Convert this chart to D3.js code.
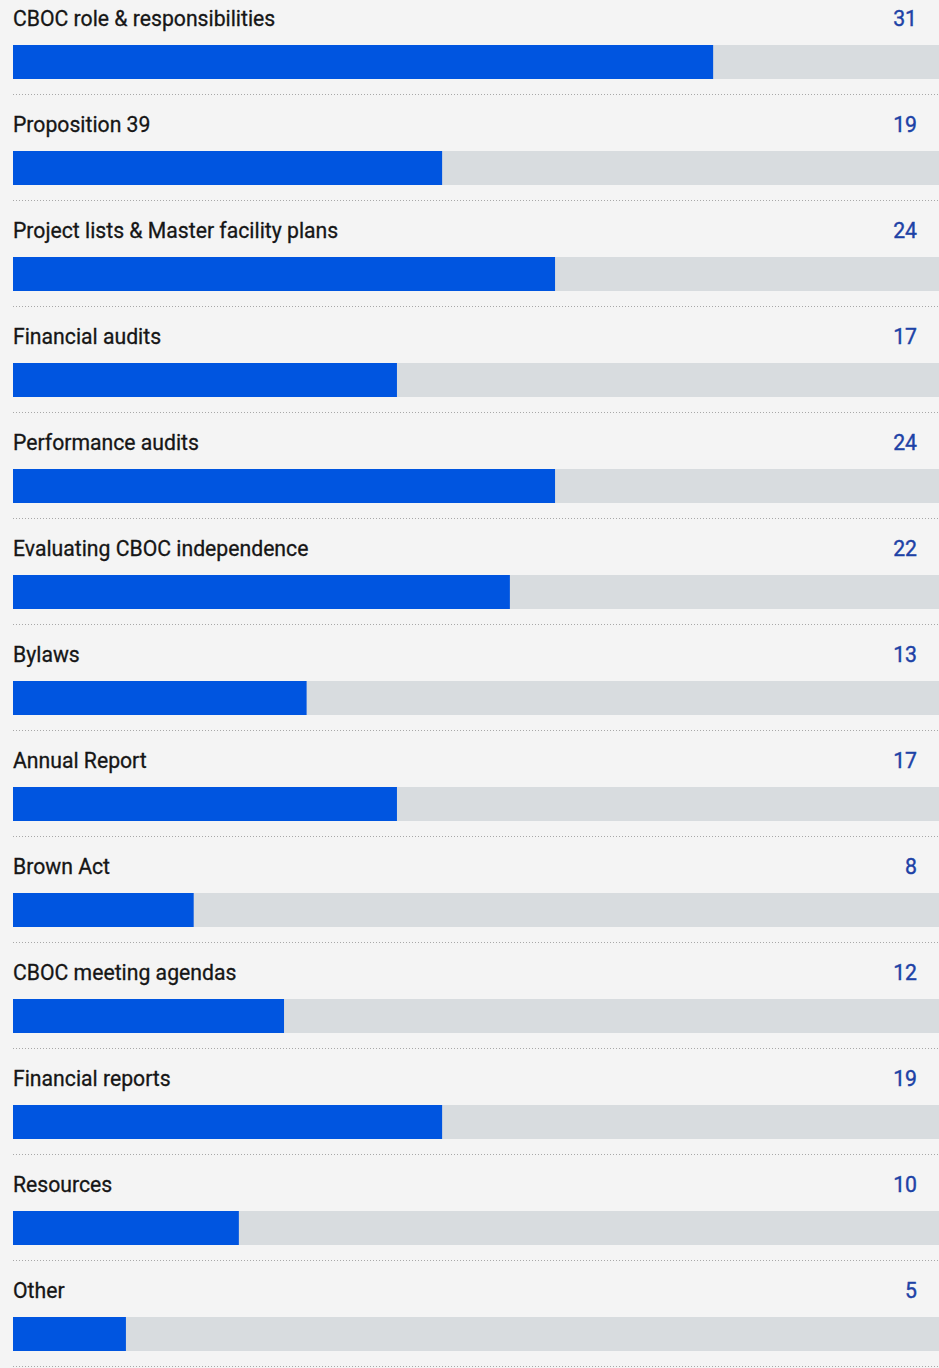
<html>
<head>
<meta charset="utf-8"/>
<script src="https://d3js.org/d3.v7.min.js"></script>
<style type="text/css">
body {
  margin: 0;
  overflow: hidden;
  background: #f4f4f4;
  font-family: Roboto, "Noto Sans", sans-serif;
}
</style>
</head>
<body>
<div id="v"></div>
<script type="text/javascript">
var topics = ["CBOC role & responsibilities", "Proposition 39", "Project lists & Master facility plans",
  "Financial audits", "Performance audits", "Evaluating CBOC independence", "Bylaws", "Annual Report",
  "Brown Act", "CBOC meeting agendas", "Financial reports", "Resources", "Other"];
var counts = [31, 19, 24, 17, 24, 22, 13, 17, 8, 12, 19, 10, 5];
var maxValue = 41;

var width = 939, height = 1368;
var left = 13, rowH = 106, barH = 34;

var svg = d3.select("#v").append("svg")
  .attr("width", width)
  .attr("height", height);

var x = d3.scaleLinear().domain([0, maxValue]).range([0, width - left]);
var y = d3.scaleBand().domain(d3.range(topics.length)).range([0, rowH * topics.length]);

var row = svg.selectAll(".row")
  .data(topics).enter()
  .append("g")
  .attr("class", "row")
  .attr("transform", function(d, i) { return "translate(" + left + "," + y(i) + ")"; });

// topic label + count on one line, bar underneath
row.append("text")
  .attr("x", 0)
  .attr("y", 26)
  .style("font-size", "21.2px")
  .attr("fill", "#161616")
  .attr("stroke", "#161616")
  .attr("stroke-width", 0.3)
  .text(function(d) { return d; });

row.append("text")
  .attr("x", 904)
  .attr("y", 26)
  .attr("text-anchor", "end")
  .style("font-size", "21.2px")
  .attr("fill", "#1d42a6")
  .attr("stroke", "#1d42a6")
  .attr("stroke-width", 0.4)
  .text(function(d, i) { return counts[i]; });

row.append("rect")
  .attr("y", 45)
  .attr("height", barH)
  .attr("width", x(maxValue))
  .attr("fill", "#d8dcdf");

row.append("rect")
  .attr("y", 45)
  .attr("height", barH)
  .attr("width", function(d, i) { return x(counts[i]); })
  .attr("fill", "#0055e0");

row.append("line")
  .attr("x1", 0)
  .attr("x2", width - left)
  .attr("y1", 94.5)
  .attr("y2", 94.5)
  .attr("stroke", "#a8a8a8")
  .attr("stroke-width", 1)
  .attr("stroke-dasharray", "1,2");
</script>
</body>
</html>
